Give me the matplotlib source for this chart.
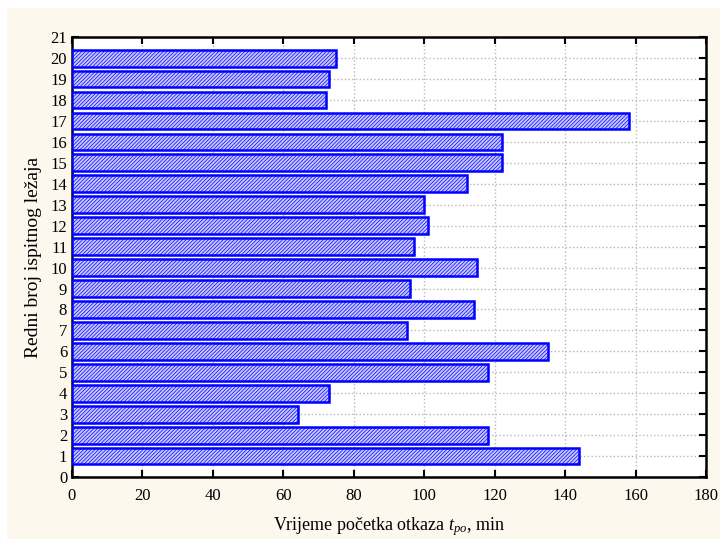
import matplotlib.pyplot as plt
from matplotlib.patches import Rectangle

plt.rcParams['font.family'] = ['Liberation Serif', 'DejaVu Serif']
plt.rcParams['mathtext.fontset'] = 'custom'
plt.rcParams['mathtext.it'] = 'Liberation Serif:italic'
plt.rcParams['mathtext.rm'] = 'Liberation Serif'
plt.rcParams['hatch.color'] = '#a4a4ff'
plt.rcParams['hatch.linewidth'] = 0.5

# data
bearing_no = list(range(1, 21))
times = [144, 118, 64, 73, 118, 135, 95, 114, 96, 115,
         97, 101, 100, 112, 122, 122, 158, 72, 73, 75]

fig = plt.figure(figsize=(7.2, 5.39), dpi=100, facecolor='white')
# cream background panel
fig.patches.append(Rectangle((7 / 720, 0), 1 - 7 / 720, 1 - 8 / 539,
                             transform=fig.transFigure, facecolor='#fdf8ee',
                             edgecolor='none', zorder=-10))
ax = fig.add_axes([0.1, 0.115, 0.881, 0.816])

ax.barh(bearing_no, times, height=0.8, color='#c8c8ff', edgecolor='#0000ff',
        linewidth=1.8, hatch='/////////', zorder=3)

ax.set_xlim(0, 180)
ax.set_ylim(0, 21)
ax.set_xticks(range(0, 181, 20))
ax.set_yticks(range(0, 22))
ax.grid(True, linestyle=':', color='#b8b8b8', linewidth=1, zorder=0)
ax.tick_params(direction='in', top=True, right=True, length=5, width=1.5,
               labelsize=12)
ax.tick_params(axis='x', pad=8)
for s in ax.spines.values():
    s.set_linewidth(1.8)

ax.set_xlabel('Vrijeme početka otkaza $t_{po}$, min', fontsize=13, labelpad=8)
ax.set_ylabel('Redni broj ispitnog ležaja', fontsize=14, labelpad=6)

plt.savefig('out.png', dpi=100, facecolor=fig.get_facecolor())
